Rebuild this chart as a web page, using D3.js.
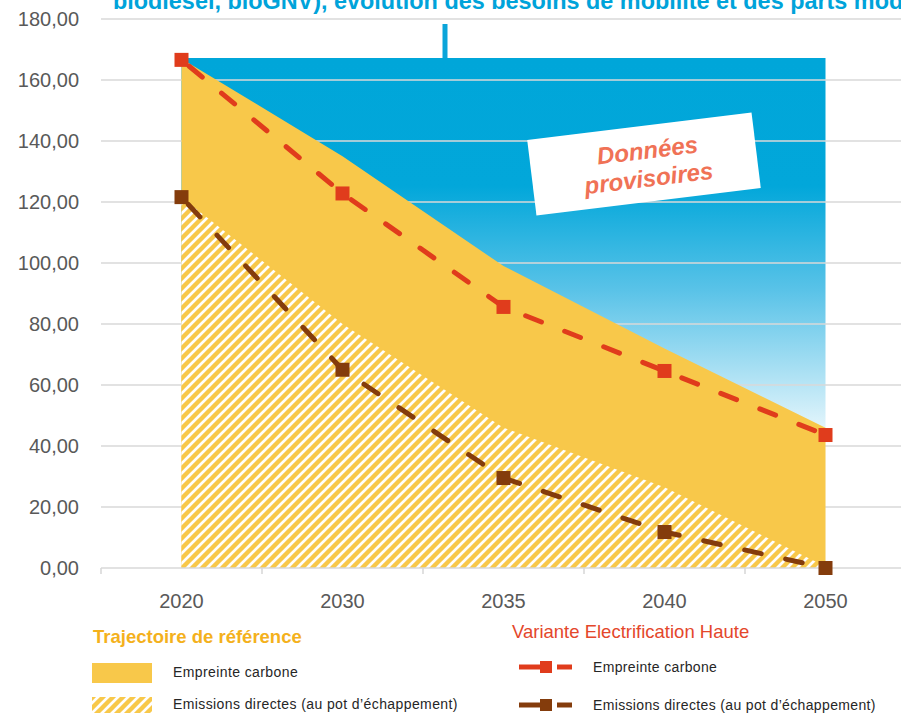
<!DOCTYPE html>
<html>
<head>
<meta charset="utf-8">
<script src="https://cdn.jsdelivr.net/npm/d3@7/dist/d3.min.js"></script>
<style>
  html, body { margin: 0; padding: 0; background: #ffffff; }
  svg { display: block; font-family: "Liberation Sans", Arial, sans-serif; }
</style>
</head>
<body>
<svg id="chart" width="901" height="713"></svg>
<script>
// Emissions trajectories (MtCO2e) by horizon year
const years = ["2020", "2030", "2035", "2040", "2050"];
// Reference trajectory
const refFootprint = [167.0, 135.0, 99.0, 72.0, 46.0];
const refDirect = [121.5, 80.0, 46.0, 26.5, 0.5];
// High-electrification variant
const varFootprint = [166.6, 122.8, 85.6, 64.6, 43.6];
const varDirect = [121.6, 65.0, 29.5, 11.8, 0.0];
// Level of the blue backdrop band
const backdropLevel = [167.2, 167.2, 167.2, 167.2, 167.2];
const yTicks = [0, 20, 40, 60, 80, 100, 120, 140, 160, 180];

const titleText = "biodiesel, bioGNV), évolution des besoins de mobilité et des parts modales";

const svg = d3.select("#chart");
const W = 901, H = 713;

const x = d3.scaleBand().domain(years).range([101, 906]).padding(0);
const y = d3.scaleLinear().domain([0, 180]).range([568, 19]);
const cx = d => x(d) + x.bandwidth() / 2;

const defs = svg.append("defs");

// Sky gradient behind the areas
const grad = defs.append("linearGradient")
  .attr("id", "sky")
  .attr("gradientUnits", "userSpaceOnUse")
  .attr("x1", 0).attr("y1", y(167.2)).attr("x2", 0).attr("y2", y(40));
grad.append("stop").attr("offset", 0).attr("stop-color", "#00A6D9");
grad.append("stop").attr("offset", 0.33).attr("stop-color", "#02A7DA");
grad.append("stop").attr("offset", 0.6).attr("stop-color", "#5AC3E8");
grad.append("stop").attr("offset", 1).attr("stop-color", "#F4FBFE");

// Wide upward diagonal hatch
const pat = defs.append("pattern")
  .attr("id", "hatch")
  .attr("patternUnits", "userSpaceOnUse")
  .attr("width", 10).attr("height", 10);
pat.append("rect").attr("width", 10).attr("height", 10).attr("fill", "#ffffff");
pat.append("path")
  .attr("d", "M-2,2 L2,-2 M0,10 L10,0 M8,12 L12,8")
  .attr("stroke", "#F8C84A").attr("stroke-width", 4.4);

// Title (runs past the top edge of the page)
svg.append("text")
  .attr("x", 113).attr("y", 9)
  .attr("font-size", 23.4).attr("font-weight", "bold")
  .attr("fill", "#00A3DA")
  .text(titleText);

// Backdrop band
const area = (vals) => d3.area()
  .x((d, i) => cx(years[i]))
  .y0(() => y(0))
  .y1(d => y(d))(vals);

svg.append("path")
  .attr("d", area(backdropLevel))
  .attr("fill", "url(#sky)");

// Pointer stem from the title
svg.append("line")
  .attr("x1", 445).attr("x2", 445)
  .attr("y1", 24).attr("y2", y(167.2))
  .attr("stroke", "#0AA5DA").attr("stroke-width", 5);

// Gridlines
svg.append("g").selectAll("line")
  .data(yTicks.filter(t => t > 0))
  .join("line")
  .attr("x1", 101).attr("x2", W)
  .attr("y1", d => y(d)).attr("y2", d => y(d))
  .attr("stroke", "#D9D9D9").attr("stroke-width", 1.6);

// Y axis labels
svg.append("g").selectAll("text")
  .data(yTicks)
  .join("text")
  .attr("x", 79).attr("y", d => y(d) + 7)
  .attr("text-anchor", "end")
  .attr("font-size", 20).attr("fill", "#595959")
  .text(d => d3.format(".2f")(d).replace(".", ","));

// Reference trajectory areas
svg.append("path")
  .attr("d", area(refFootprint))
  .attr("fill", "#F8C84A");
svg.append("path")
  .attr("d", area(refDirect))
  .attr("fill", "url(#hatch)");

// X axis
const xAxis = svg.append("g");
xAxis.append("line")
  .attr("x1", 101).attr("x2", W)
  .attr("y1", y(0)).attr("y2", y(0))
  .attr("stroke", "#D9D9D9").attr("stroke-width", 1.6);
xAxis.selectAll("line.tick")
  .data(years)
  .join("line").attr("class", "tick")
  .attr("x1", d => x(d)).attr("x2", d => x(d))
  .attr("y1", y(0)).attr("y2", y(0) + 6)
  .attr("stroke", "#D9D9D9").attr("stroke-width", 1.6);
xAxis.selectAll("text")
  .data(years)
  .join("text")
  .attr("x", d => cx(d)).attr("y", 608)
  .attr("text-anchor", "middle")
  .attr("font-size", 20).attr("fill", "#595959")
  .text(d => d);

// Variant lines with square markers
const line = d3.line().x((d, i) => cx(years[i])).y(d => y(d));
function series(vals, color) {
  svg.append("path")
    .attr("d", line(vals))
    .attr("fill", "none")
    .attr("stroke", color).attr("stroke-width", 5)
    .attr("stroke-linecap", "round")
    .attr("stroke-dasharray", "17,25")
    .attr("stroke-dashoffset", -10);
  svg.append("g").selectAll("rect")
    .data(vals)
    .join("rect")
    .attr("x", (d, i) => cx(years[i]) - 7)
    .attr("y", d => y(d) - 7)
    .attr("width", 14).attr("height", 14)
    .attr("fill", color);
}
series(varDirect, "#843C0C");
series(varFootprint, "#E03C1C");

// "Provisional data" label
const note = svg.append("g").attr("transform", "translate(644,164) rotate(-7)");
note.append("rect")
  .attr("x", -113).attr("y", -38).attr("width", 226).attr("height", 76)
  .attr("fill", "#ffffff");
note.append("text")
  .attr("x", 5).attr("y", -5)
  .attr("text-anchor", "middle")
  .attr("font-size", 24).attr("font-weight", "bold").attr("font-style", "italic")
  .attr("fill", "#F07256")
  .text("Données");
note.append("text")
  .attr("x", 3).attr("y", 23)
  .attr("text-anchor", "middle")
  .attr("font-size", 24).attr("font-weight", "bold").attr("font-style", "italic")
  .attr("fill", "#F07256")
  .text("provisoires");

// Legend: reference trajectory
const legend = svg.append("g");
legend.append("text")
  .attr("x", 93).attr("y", 643)
  .attr("font-size", 18.5).attr("font-weight", "bold").attr("fill", "#F4B11C")
  .text("Trajectoire de référence");
legend.append("rect").attr("x", 92).attr("y", 663).attr("width", 60).attr("height", 20)
  .attr("fill", "#F8C84A");
legend.append("rect").attr("x", 92).attr("y", 697).attr("width", 60).attr("height", 20)
  .attr("fill", "url(#hatch)");
legend.append("text")
  .attr("x", 173).attr("y", 677)
  .attr("font-size", 14).attr("letter-spacing", 0.4).attr("fill", "#262626")
  .text("Empreinte carbone");
legend.append("text")
  .attr("x", 173).attr("y", 709)
  .attr("font-size", 14).attr("letter-spacing", 0.4).attr("fill", "#262626")
  .text("Emissions directes (au pot d’échappement)");

// Legend: high-electrification variant
legend.append("text")
  .attr("x", 512).attr("y", 638)
  .attr("font-size", 18.5).attr("fill", "#E4472B")
  .text("Variante Electrification Haute");
const varItems = [
  { label: "Empreinte carbone", color: "#E03C1C", y: 667 },
  { label: "Emissions directes (au pot d’échappement)", color: "#843C0C", y: 705 }
];
varItems.forEach(it => {
  legend.append("line").attr("x1", 519).attr("x2", 546).attr("y1", it.y).attr("y2", it.y)
    .attr("stroke", it.color).attr("stroke-width", 5);
  legend.append("line").attr("x1", 557).attr("x2", 572).attr("y1", it.y).attr("y2", it.y)
    .attr("stroke", it.color).attr("stroke-width", 5);
  legend.append("rect").attr("x", 540).attr("y", it.y - 6).attr("width", 12).attr("height", 12)
    .attr("fill", it.color);
  legend.append("text")
    .attr("x", 593).attr("y", it.y + 5)
    .attr("font-size", 14).attr("letter-spacing", 0.35).attr("fill", "#262626")
    .text(it.label);
});
</script>
</body>
</html>
